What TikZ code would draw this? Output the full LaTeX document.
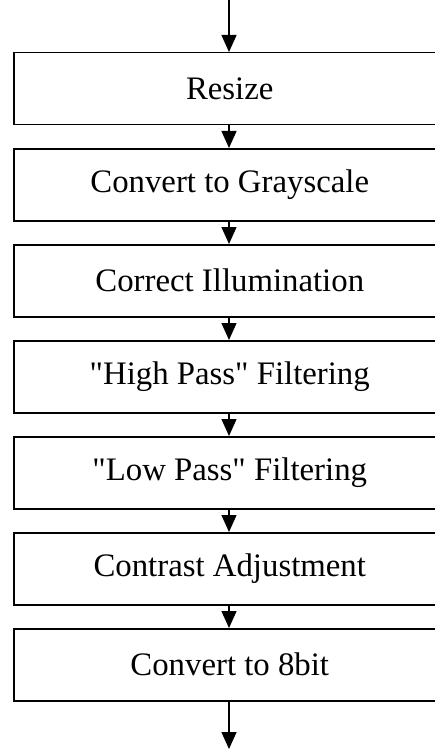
\documentclass[tikz,border=0pt]{standalone}
\usepackage{fontspec}
\setmainfont{Liberation Serif}[Ligatures=TeXOff]
\usetikzlibrary{arrows.meta}
\begin{document}
\begin{tikzpicture}[x=1pt,y=-1pt,
  stepbox/.style={draw,line width=1.5pt,minimum width=432pt,minimum height=72pt,inner sep=0pt,font=\fontsize{32.8}{36}\selectfont,anchor=north west},
  flow/.style={line width=1.3pt,-{Triangle[width=15pt,length=17pt]}}]
\useasboundingbox (0,0) rectangle (435,749);
\clip (0,0) rectangle (435,749);
\coordinate (start) at (229,0);
\coordinate (finish) at (229,749);
\node[stepbox] (b1) at (13,52) {Resize};
\node[stepbox] (b2) at (13,148) {Convert to Grayscale};
\node[stepbox] (b3) at (13,244) {Correct Illumination};
\node[stepbox] (b4) at (13,340) {"High Pass" Filtering};
\node[stepbox] (b5) at (13,436) {"Low Pass" Filtering};
\node[stepbox] (b6) at (13,532) {Contrast Adjustment};
\node[stepbox] (b7) at (13,628) {Convert to 8bit};
\draw[flow] (start) -- (start |- b1.north);
\foreach \a/\b in {b1/b2,b2/b3,b3/b4,b4/b5,b5/b6,b6/b7}
  \draw[flow] (start |- \a.south) -- (start |- \b.north);
\draw[flow] (start |- b7.south) -- (finish);
\end{tikzpicture}
\end{document}
